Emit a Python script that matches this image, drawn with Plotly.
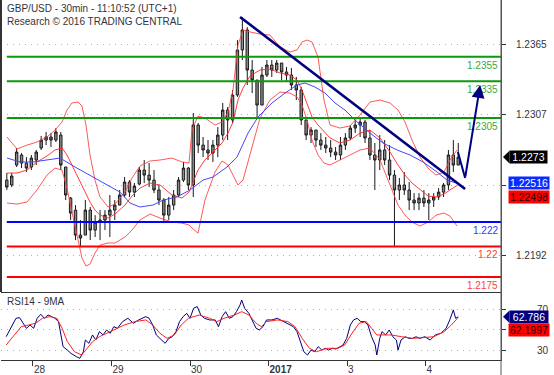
import plotly.graph_objects as go

# ---------------- data ----------------
# time axis: trading hours counted from 28 Dec 00:00 (weekend removed)
day_tick_hours = [0, 24, 48, 72, 96, 120]
day_tick_labels = ["28", "29", "30", "<b>2017</b>", "3", "4"]

# price bars (GBP/USD), one bar every 1.5 h
bar_first_hour = -8.0
bar_step_hours = 1.5
bar_open = [1.22542, 1.22502, 1.22665, 1.22747, 1.22681, 1.22649, 1.22706, 1.22804, 1.22869, 1.22894,
            1.22869, 1.22910, 1.22649, 1.22395, 1.22297, 1.22093, 1.22093, 1.22297, 1.22134, 1.22199,
            1.22216, 1.22256, 1.22297, 1.22338, 1.22420, 1.22526, 1.22444, 1.22510, 1.22624, 1.22583,
            1.22542, 1.22461, 1.22379, 1.22256, 1.22338, 1.22420, 1.22542, 1.22640, 1.22502, 1.22992,
            1.22828, 1.22788, 1.22763, 1.22828, 1.22910, 1.23114, 1.23033, 1.23237, 1.23605, 1.23768,
            1.23441, 1.23359, 1.23155, 1.23400, 1.23482, 1.23441, 1.23498, 1.23425, 1.23400, 1.23319,
            1.23278, 1.23033, 1.22910, 1.22951, 1.22869, 1.22828, 1.22804, 1.22771, 1.22747, 1.22828,
            1.22886, 1.22967, 1.22992, 1.23016, 1.22886, 1.22747, 1.22706, 1.22788, 1.22706, 1.22583,
            1.22461, 1.22502, 1.22461, 1.22379, 1.22355, 1.22395, 1.22355, 1.22379, 1.22404, 1.22444,
            1.22502, 1.22747, 1.22665]
bar_high = [1.22600, 1.22600, 1.22804, 1.22763, 1.22730, 1.22747, 1.22788, 1.22902, 1.22935, 1.22926,
            1.22967, 1.22935, 1.22649, 1.22404, 1.22338, 1.22216, 1.22379, 1.22322, 1.22256, 1.22297,
            1.22297, 1.22420, 1.22379, 1.22461, 1.22567, 1.22542, 1.22518, 1.22649, 1.22706, 1.22681,
            1.22624, 1.22502, 1.22395, 1.22404, 1.22461, 1.22567, 1.22690, 1.22649, 1.23090, 1.23008,
            1.22894, 1.22869, 1.22869, 1.22975, 1.23172, 1.23139, 1.23278, 1.23686, 1.23874, 1.23792,
            1.23523, 1.23359, 1.23466, 1.23523, 1.23523, 1.23523, 1.23498, 1.23466, 1.23457, 1.23384,
            1.23302, 1.23033, 1.22975, 1.22951, 1.22926, 1.22894, 1.22869, 1.22812, 1.22894, 1.22926,
            1.22992, 1.23033, 1.23049, 1.23033, 1.22951, 1.22845, 1.22910, 1.22869, 1.22828, 1.22624,
            1.22559, 1.22608, 1.22526, 1.22436, 1.22436, 1.22461, 1.22436, 1.22436, 1.22477, 1.22518,
            1.22788, 1.22869, 1.22845]
bar_low = [1.22461, 1.22485, 1.22649, 1.22640, 1.22608, 1.22624, 1.22665, 1.22788, 1.22828, 1.22812,
           1.22853, 1.22624, 1.22379, 1.22216, 1.22052, 1.21995, 1.22093, 1.22052, 1.22077, 1.22052,
           1.22134, 1.22077, 1.22216, 1.22338, 1.22404, 1.22404, 1.22404, 1.22502, 1.22518, 1.22485,
           1.22436, 1.22338, 1.22191, 1.22216, 1.22297, 1.22404, 1.22526, 1.22461, 1.22404, 1.22763,
           1.22730, 1.22706, 1.22690, 1.22730, 1.22869, 1.22869, 1.23008, 1.23221, 1.23523, 1.23319,
           1.23253, 1.23057, 1.23155, 1.23384, 1.23384, 1.23417, 1.23359, 1.23343, 1.23278, 1.23196,
           1.22992, 1.22869, 1.22845, 1.22812, 1.22788, 1.22763, 1.22730, 1.22706, 1.22706, 1.22788,
           1.22869, 1.22926, 1.22894, 1.22845, 1.22706, 1.22461, 1.22624, 1.22665, 1.22542, 1.21995,
           1.22379, 1.22420, 1.22297, 1.22297, 1.22297, 1.22322, 1.22216, 1.22322, 1.22379, 1.22404,
           1.22461, 1.22608, 1.22665]
bar_close = [1.22485, 1.22575, 1.22771, 1.22681, 1.22640, 1.22722, 1.22771, 1.22869, 1.22894, 1.22869,
             1.22935, 1.22665, 1.22420, 1.22273, 1.22093, 1.22069, 1.22297, 1.22134, 1.22199, 1.22216,
             1.22256, 1.22297, 1.22338, 1.22420, 1.22526, 1.22444, 1.22493, 1.22624, 1.22583, 1.22542,
             1.22461, 1.22379, 1.22256, 1.22338, 1.22420, 1.22542, 1.22640, 1.22502, 1.22992, 1.22828,
             1.22788, 1.22763, 1.22828, 1.22910, 1.23114, 1.23033, 1.23237, 1.23605, 1.23768, 1.23441,
             1.23359, 1.23155, 1.23400, 1.23482, 1.23441, 1.23498, 1.23425, 1.23400, 1.23319, 1.23278,
             1.23033, 1.22910, 1.22951, 1.22869, 1.22828, 1.22804, 1.22771, 1.22747, 1.22828, 1.22886,
             1.22967, 1.22992, 1.23016, 1.22886, 1.22747, 1.22706, 1.22788, 1.22706, 1.22583, 1.22461,
             1.22502, 1.22461, 1.22379, 1.22355, 1.22395, 1.22355, 1.22379, 1.22404, 1.22444, 1.22502,
             1.22747, 1.22665, 1.22730]
bar_hours = [bar_first_hour + bar_step_hours * i for i in range(len(bar_open))]

# Bollinger bands (red)
band_hours = [-7.95, -4.89, -1.83, 1.22, 4.28, 6.73, 8.87, 10.39, 11.92, 13.76,
              14.98, 16.20, 17.43, 18.95, 20.48, 22.93, 25.07, 28.13, 30.27, 32.71,
              35.77, 38.83, 42.49, 45.55, 47.69, 48.61, 50.44, 52.58, 55.64, 57.78,
              59.62, 61.14, 62.67, 64.20, 66.34, 69.40, 72.45, 75.51, 78.57, 80.71,
              82.24, 83.77, 85.30, 87.13, 88.96, 90.80, 93.85, 96.91, 99.97, 103.03,
              106.08, 109.14, 111.59, 113.73, 115.87, 118.31, 120.76, 123.20, 125.65, 127.48,
              129.62]
band_upper = [1.22894, 1.22796, 1.22828, 1.22853, 1.22894, 1.22951, 1.23016, 1.23114, 1.23172, 1.23180,
              1.23147, 1.22992, 1.22747, 1.22542, 1.22404, 1.22322, 1.22346, 1.22444, 1.22559, 1.22657,
              1.22698, 1.22706, 1.22722, 1.22690, 1.22681, 1.22951, 1.23065, 1.23049, 1.22992, 1.23016,
              1.23098, 1.23278, 1.23645, 1.23768, 1.23752, 1.23735, 1.23727, 1.23629, 1.23588, 1.23605,
              1.23670, 1.23686, 1.23670, 1.23547, 1.23196, 1.22992, 1.22967, 1.22984, 1.23073, 1.23180,
              1.23196, 1.23172, 1.23114, 1.23016, 1.22869, 1.22730, 1.22640, 1.22583, 1.22608, 1.22706,
              1.22788]
band_middle = [1.22600, 1.22600, 1.22624, 1.22690, 1.22739, 1.22788, 1.22804, 1.22747, 1.22665, 1.22567,
               1.22493, 1.22428, 1.22363, 1.22297, 1.22256, 1.22232, 1.22265, 1.22338, 1.22412, 1.22477,
               1.22518, 1.22502, 1.22420, 1.22395, 1.22444, 1.22502, 1.22624, 1.22706, 1.22788, 1.22845,
               1.22926, 1.23016, 1.23196, 1.23294, 1.23392, 1.23441, 1.23449, 1.23417, 1.23400, 1.23359,
               1.23278, 1.23163, 1.23057, 1.22992, 1.22935, 1.22886, 1.22845, 1.22869, 1.22926, 1.22951,
               1.22886, 1.22771, 1.22665, 1.22583, 1.22518, 1.22461, 1.22412, 1.22404, 1.22428, 1.22461,
               1.22498]
band_lower = [1.22355, 1.22346, 1.22363, 1.22461, 1.22583, 1.22640, 1.22624, 1.22477, 1.22281, 1.22052,
              1.21905, 1.21840, 1.21856, 1.21946, 1.22011, 1.22028, 1.22028, 1.22077, 1.22134, 1.22216,
              1.22265, 1.22232, 1.22199, 1.22191, 1.22175, 1.22150, 1.22109, 1.22379, 1.22608, 1.22698,
              1.22665, 1.22583, 1.22502, 1.22542, 1.22747, 1.23049, 1.23196, 1.23261, 1.23253, 1.23221,
              1.23155, 1.23033, 1.22869, 1.22747, 1.22681, 1.22665, 1.22706, 1.22747, 1.22788, 1.22804,
              1.22706, 1.22502, 1.22338, 1.22256, 1.22199, 1.22167, 1.22199, 1.22256, 1.22273, 1.22248,
              1.22167]

# slow moving average (blue)
ma_hours = [-7.95, -3.97, 0.0, 4.28, 8.25, 13.45, 18.34, 22.62, 26.60, 29.65,
            32.71, 36.69, 39.74, 44.02, 48.00, 51.97, 55.03, 59.31, 62.37, 65.73,
            68.79, 73.07, 77.04, 80.71, 83.16, 86.21, 89.27, 92.33, 95.38, 98.44,
            103.03, 107.00, 111.28, 115.26, 119.23, 123.51, 126.57, 129.62]
ma_values = [1.22722, 1.22690, 1.22690, 1.22706, 1.22722, 1.22640, 1.22567, 1.22502, 1.22444, 1.22355,
             1.22322, 1.22338, 1.22379, 1.22404, 1.22461, 1.22542, 1.22567, 1.22649, 1.22730, 1.22926,
             1.23057, 1.23172, 1.23253, 1.23319, 1.23335, 1.23302, 1.23253, 1.23172, 1.23114, 1.23033,
             1.22926, 1.22845, 1.22788, 1.22747, 1.22690, 1.22608, 1.22542, 1.22516]

# key levels
resistance_levels = [1.2355, 1.2335, 1.2305]
resistance_labels = ["1.2355", "1.2335", "1.2305"]
pivot_level = 1.222
pivot_label = "1.222"
support_levels = [1.22, 1.2175]
support_labels = ["1.22", "1.2175"]

# bearish trend line and forecast path
trend_hours = [63.3, 132.1]
trend_prices = [1.23874, 1.22469]
forecast_hours = [129.9, 132.1, 136.7]
forecast_prices = [1.22771, 1.22559, 1.23319]

# RSI14 and its 9-period MA
rsi_hours = [-8.2, -5.2, -4.1, -3.0, -2.0, -0.9, 0.2, 1.3, 2.4, 3.5,
             4.6, 5.7, 6.7, 7.8, 8.6, 9.2, 10.5, 11.6, 13.3, 14.3,
             15.4, 16.0, 17.1, 18.2, 19.2, 20.3, 21.4, 22.5, 23.6, 24.7,
             25.8, 27.4, 29.0, 30.7, 32.3, 34.5, 35.5, 36.6, 37.7, 39.3,
             40.4, 41.5, 42.6, 43.7, 44.8, 45.9, 47.0, 48.0, 49.1, 50.2,
             51.3, 52.4, 54.0, 55.7, 56.7, 57.8, 58.9, 60.0, 61.1, 62.2,
             63.3, 63.8, 64.7, 66.0, 67.1, 68.2, 69.2, 70.3, 71.4, 73.0,
             74.7, 76.3, 77.9, 79.6, 80.7, 81.7, 82.8, 83.9, 85.0, 86.1,
             87.2, 88.3, 89.4, 90.4, 91.5, 92.6, 93.7, 94.8, 95.9, 97.0,
             98.0, 99.1, 100.2, 101.3, 102.4, 103.5, 104.6, 105.1, 106.0, 106.7,
             107.8, 108.9, 110.0, 111.1, 111.6, 112.5, 113.8, 114.9, 116.0, 117.1,
             118.2, 119.8, 121.4, 123.0, 124.7, 126.3, 127.4, 128.5, 129.2, 130.0]
rsi_values = [43.5, 61.3, 61.9, 56.5, 51.6, 54.8, 51.6, 61.3, 65.2, 61.3,
              64.5, 62.9, 61.3, 58.1, 45.2, 33.9, 30.6, 27.4, 24.2, 22.6,
              29.0, 40.3, 37.1, 45.2, 40.3, 48.4, 45.2, 50.0, 46.8, 53.2,
              51.6, 58.1, 61.3, 56.5, 59.7, 62.9, 61.3, 54.8, 45.2, 40.3,
              37.1, 41.9, 43.5, 48.4, 58.1, 62.9, 66.1, 61.3, 71.0, 72.6,
              64.5, 61.3, 59.7, 59.7, 53.2, 62.9, 67.7, 61.3, 62.9, 67.7,
              74.2, 79.0, 71.0, 66.1, 58.1, 51.6, 50.0, 53.2, 59.7, 59.7,
              61.3, 58.7, 55.5, 53.2, 48.4, 38.7, 29.0, 25.8, 30.6, 29.0,
              33.9, 30.6, 32.3, 30.6, 32.3, 31.6, 33.9, 35.5, 41.9, 54.8,
              59.7, 61.3, 58.1, 58.1, 54.8, 43.5, 35.5, 25.8, 41.9, 48.4,
              45.2, 50.0, 43.5, 40.3, 30.6, 40.3, 43.5, 41.9, 41.9, 43.5,
              41.9, 43.5, 40.3, 45.2, 46.8, 51.6, 59.7, 69.4, 61.3, 62.786]
rsi_ma_hours = [-8.2, -5.8, -3.6, -1.4, 0.8, 2.9, 5.1, 7.3, 8.9, 10.5,
                12.7, 14.9, 16.5, 18.2, 20.3, 22.5, 24.7, 27.9, 31.2, 34.5,
                36.6, 38.8, 41.0, 43.2, 45.3, 47.5, 50.8, 54.0, 56.2, 58.4,
                61.6, 63.8, 66.0, 68.2, 69.8, 71.4, 74.7, 77.9, 80.1, 82.3,
                84.5, 86.6, 89.9, 93.2, 95.3, 97.5, 99.7, 101.9, 103.5, 105.1,
                107.3, 109.5, 112.7, 116.0, 119.2, 122.5, 125.7, 127.9, 130.0]
rsi_ma_values = [35.5, 45.2, 53.2, 54.8, 56.5, 61.3, 62.9, 61.3, 51.6, 38.7,
                 29.0, 25.8, 32.3, 38.7, 43.5, 46.8, 50.0, 54.8, 58.1, 59.7,
                 54.8, 46.8, 41.9, 45.2, 54.8, 61.3, 64.5, 61.3, 58.1, 61.3,
                 64.5, 67.7, 64.5, 56.5, 53.2, 58.1, 59.7, 58.1, 53.2, 41.9,
                 32.3, 29.0, 32.3, 32.3, 35.5, 46.8, 56.5, 58.1, 51.6, 45.2,
                 45.2, 45.2, 43.5, 41.9, 42.6, 43.5, 48.4, 54.8, 62.1997]

# axis ticks and last-value tags
price_ticks = [1.2365, 1.23075, 1.225, 1.21925]
price_tick_text = ["1.2365", "1.2307", "", "1.2192"]
rsi_ticks = [30, 50, 70]
rsi_tick_text = ["30", "", "70"]
last_price = 1.2273
ma_last = 1.22516
bb_last = 1.22498
rsi_last = 62.786
rsi_ma_last = 62.1997

# ---------------- styling / layout constants ----------------
W, H = 554, 375
ML, MR, MT, MB = 1, 53, 0, 15
PW = W - ML - MR          # 500
PH = H - MT - MB          # 360
SPLIT = 68 / PH           # RSI panel height share
X_RANGE = [-9.78, 143.07]
Y_MAIN = [1.21628, 1.24013]
Y_RSI = [21.0, 86.7]
FONT = "Liberation Sans, Arial, sans-serif"
NAVY = "#000080"


def px2paper_x(px):
    return (px - ML) / PW


fig = go.Figure()

fig.add_trace(go.Candlestick(
    x=bar_hours, open=bar_open, high=bar_high, low=bar_low, close=bar_close,
    increasing=dict(line=dict(color="#1a1a1a", width=1), fillcolor="#8c8c8c"),
    decreasing=dict(line=dict(color="#1a1a1a", width=1), fillcolor="#8c8c8c"),
    whiskerwidth=0, xaxis="x", yaxis="y", showlegend=False, hoverinfo="skip"))

for vals, col in [(band_upper, "rgba(255,60,60,0.85)"), (band_middle, "rgba(255,40,40,0.9)"),
                  (band_lower, "rgba(255,60,60,0.85)")]:
    fig.add_trace(go.Scatter(x=band_hours, y=vals, mode="lines", xaxis="x", yaxis="y",
                             line=dict(color=col, width=1), showlegend=False, hoverinfo="skip"))

fig.add_trace(go.Scatter(x=ma_hours, y=ma_values, mode="lines", xaxis="x", yaxis="y",
                         line=dict(color="rgb(70,70,255)", width=1), showlegend=False, hoverinfo="skip"))

level_specs = ([(lv, lb, "#0a9a0a", "#3aa83a") for lv, lb in zip(resistance_levels, resistance_labels)]
               + [(pivot_level, pivot_label, "#0000ff", "#3333ff")]
               + [(lv, lb, "#ff0000", "#ff3b3b") for lv, lb in zip(support_levels, support_labels)])
for lv, lb, lcol, tcol in level_specs:
    fig.add_trace(go.Scatter(x=[bar_hours[0], X_RANGE[1]], y=[lv, lv], mode="lines",
                             xaxis="x", yaxis="y", line=dict(color=lcol, width=2),
                             showlegend=False, hoverinfo="skip"))
    fig.add_annotation(x=px2paper_x(500), xref="paper", xanchor="right", y=lv, yref="y",
                       yanchor="top", yshift=-1, text=lb, showarrow=False,
                       font=dict(family=FONT, size=10, color=tcol))

fig.add_trace(go.Scatter(x=trend_hours, y=trend_prices, mode="lines", xaxis="x", yaxis="y",
                         line=dict(color=NAVY, width=2.6), showlegend=False, hoverinfo="skip"))
fig.add_trace(go.Scatter(x=forecast_hours[:2], y=forecast_prices[:2], mode="lines", xaxis="x", yaxis="y",
                         line=dict(color=NAVY, width=2), showlegend=False, hoverinfo="skip"))
fig.add_annotation(x=forecast_hours[2], y=forecast_prices[2], xref="x", yref="y",
                   ax=forecast_hours[1], ay=forecast_prices[1], axref="x", ayref="y",
                   text="", showarrow=True, arrowhead=2, arrowsize=1.3, arrowwidth=2,
                   arrowcolor=NAVY, standoff=0)

fig.add_trace(go.Scatter(x=rsi_hours, y=rsi_values, mode="lines", xaxis="x2", yaxis="y2",
                         line=dict(color=NAVY, width=1), showlegend=False, hoverinfo="skip"))
fig.add_trace(go.Scatter(x=rsi_ma_hours, y=rsi_ma_values, mode="lines", xaxis="x2", yaxis="y2",
                         line=dict(color="#ff2020", width=1), showlegend=False, hoverinfo="skip"))

# titles
fig.add_annotation(x=px2paper_x(5), y=1, xref="paper", yref="paper", xanchor="left", yanchor="top",
                   yshift=-1, text="GBP/USD - 30min - 11:10:52 (UTC+1)", showarrow=False,
                   font=dict(family=FONT, size=10, color="#333340"))
fig.add_annotation(x=px2paper_x(5), y=1, xref="paper", yref="paper", xanchor="left", yanchor="top",
                   yshift=-14, text="Research © 2016 TRADING CENTRAL", showarrow=False,
                   font=dict(family=FONT, size=10, color="#333340"))
fig.add_annotation(x=px2paper_x(5), y=SPLIT, xref="paper", yref="paper", xanchor="left", yanchor="top",
                   yshift=-2, text="RSI14 - 9MA", showarrow=False,
                   font=dict(family=FONT, size=10, color="#333340"))


# value tags on the right
def tag(val, yref, text, bg, fg, left_px, width, yshift=0, pointer=False, half=0.0):
    fig.add_annotation(x=px2paper_x(left_px), xref="paper", xanchor="left", y=val, yref=yref,
                       yanchor="middle", yshift=yshift, text=text, showarrow=False,
                       bgcolor=bg, width=width, height=12, borderpad=0, align="center",
                       font=dict(family=FONT, size=10.5, color=fg))
    if pointer:
        x0, x1 = px2paper_x(503), px2paper_x(left_px + 0.5)
        fig.add_shape(type="path", xref="paper", yref=yref,
                      path=f"M {x0},{val} L {x1},{val + half} L {x1},{val - half} Z",
                      fillcolor=bg, line=dict(width=0))


tag(last_price, "y", f"{last_price:.4f}", "#000000", "#ffffff", 509, 37, pointer=True, half=0.00052)
tag(ma_last, "y", f"{ma_last:.5f}", "#0a2cff", "#ffffff", 508, 40)
tag(bb_last, "y", f"{bb_last:.5f}", "#ff0000", "#2a0000", 508, 40, yshift=-12)
tag(rsi_last, "y2", f"{rsi_last:.3f}", NAVY, "#ffffff", 509, 38, pointer=True, half=6.0)
tag(rsi_ma_last, "y2", f"{rsi_ma_last:.4f}", "#ff0000", "#2a0000", 508, 40, yshift=-13)

# frame pieces
fig.add_shape(type="line", xref="paper", yref="paper", x0=1, x1=1, y0=-MB / PH, y1=1,
              line=dict(color="#555555", width=1))
fig.add_shape(type="line", xref="paper", yref="paper", x0=0, x1=0, y0=SPLIT, y1=1,
              line=dict(color="#333333", width=2))

grid = dict(showgrid=True, gridcolor="#b0b0b0", griddash="1px,5px", gridwidth=1)
fig.update_layout(
    width=W, height=H, margin=dict(l=ML, r=MR, t=MT, b=MB, autoexpand=False),
    paper_bgcolor="white", plot_bgcolor="white", showlegend=False, hovermode=False,
    boxgap=0.3,
    font=dict(family=FONT, size=10, color="#333340"),
    xaxis=dict(domain=[0, 1], anchor="y", range=X_RANGE, showticklabels=False, ticks="",
               showgrid=False, zeroline=False, showline=True, linecolor="#333333", linewidth=1,
               rangeslider=dict(visible=False)),
    xaxis2=dict(domain=[0, 1], anchor="y2", matches="x", range=X_RANGE, tickvals=day_tick_hours,
                ticktext=day_tick_labels, ticks="outside", ticklen=5, tickcolor="#333333",
                ticklabelposition="outside right", tickfont=dict(family=FONT, size=10, color="#333340"),
                showgrid=False, zeroline=False, showline=True, linecolor="#333333", linewidth=1),
    yaxis=dict(domain=[SPLIT, 1], anchor="x", side="right", range=Y_MAIN, tickvals=price_ticks,
               ticktext=price_tick_text, ticks="outside", ticklen=4, tickcolor="#333333",
               ticklabelstandoff=8, tickfont=dict(family=FONT, size=10, color="#333340"),
               zeroline=False, showline=True, linecolor="#555555", linewidth=1, **grid),
    yaxis2=dict(domain=[0, SPLIT], anchor="x2", side="right", range=Y_RSI, tickvals=rsi_ticks,
                ticktext=rsi_tick_text, ticks="outside", ticklen=4, tickcolor="#333333",
                ticklabelstandoff=29, tickfont=dict(family=FONT, size=10, color="#333340"),
                zeroline=False, showline=True, linecolor="#555555", linewidth=1, **grid),
)

fig.write_html("out.html", config={"displayModeBar": False, "staticPlot": True},
               post_script="document.body.style.margin='0px';document.body.style.overflow='hidden';")
